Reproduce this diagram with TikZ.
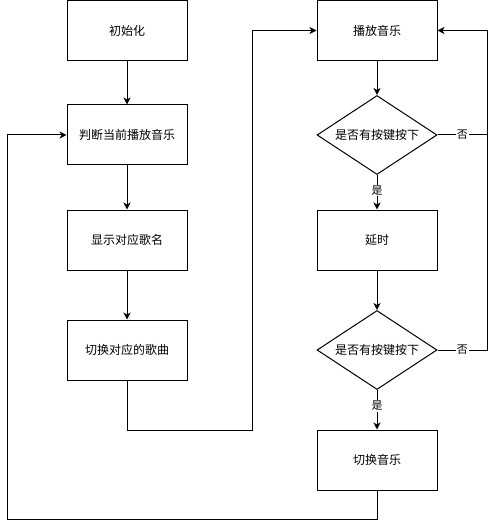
\documentclass[tikz,border=0pt]{standalone}
\usepackage{fontspec}
\setmainfont{Noto Sans CJK SC}
\usetikzlibrary{shapes.geometric, arrows.meta}
\tikzset{every node/.style={font=\fontsize{12}{14}\selectfont},
         process/.style={draw,line width=1pt,minimum width=120pt,minimum height=60pt,inner sep=0pt},
         decision/.style={draw,diamond,line width=1pt,aspect=1.5,minimum width=120pt,minimum height=79pt,inner sep=0pt},
         flow/.style={line width=1pt,-{Stealth[length=7pt,width=7pt,inset=2pt]}},
         edgelabel/.style={fill=white,inner sep=1pt,font=\fontsize{11}{13}\selectfont},
        }

\begin{document}
\begin{tikzpicture}[x=1pt,y=-1pt]
        \useasboundingbox (0,0) rectangle (496,529);
        \node[process](init)at(127,30.5){初始化};
        \node[process](judge)at(127,135){判断当前播放音乐};
        \node[process](show)at(127,240){显示对应歌名};
        \node[process](swsong)at(127,350){切换对应的歌曲};
        \node[process](play)at(377,30.5){播放音乐};
        \node[decision](key1)at(377,135){是否有按键按下};
        \node[process](delay)at(377,240){延时};
        \node[decision](key2)at(377,350){是否有按键按下};
        \node[process](swmusic)at(377,460){切换音乐};
        \coordinate(j1)at(252,430);
        \coordinate(r1)at(487,135);
        \coordinate(r2)at(487,350);
        \coordinate(l1)at(7,519);

        \draw[flow](init)--(judge);
        \draw[flow](judge)--(show);
        \draw[flow](show)--(swsong);
        \draw[flow](swsong.south)|-(j1)|-(play.west);
        \draw[flow](play)--(key1);
        \draw[flow](key1)--node[edgelabel,pos=0.45]{是}(delay);
        \draw[flow](key1.east)--node[edgelabel]{否}(r1)|-(play.east);
        \draw[flow](delay)--(key2);
        \draw[flow](key2)--node[edgelabel,pos=0.4]{是}(swmusic);
        \draw[line width=1pt](key2.east)--node[edgelabel]{否}(r2)--(r1);
        \draw[flow](swmusic.south)|-(l1)|-(judge.west);
    \end{tikzpicture}
\end{document}
